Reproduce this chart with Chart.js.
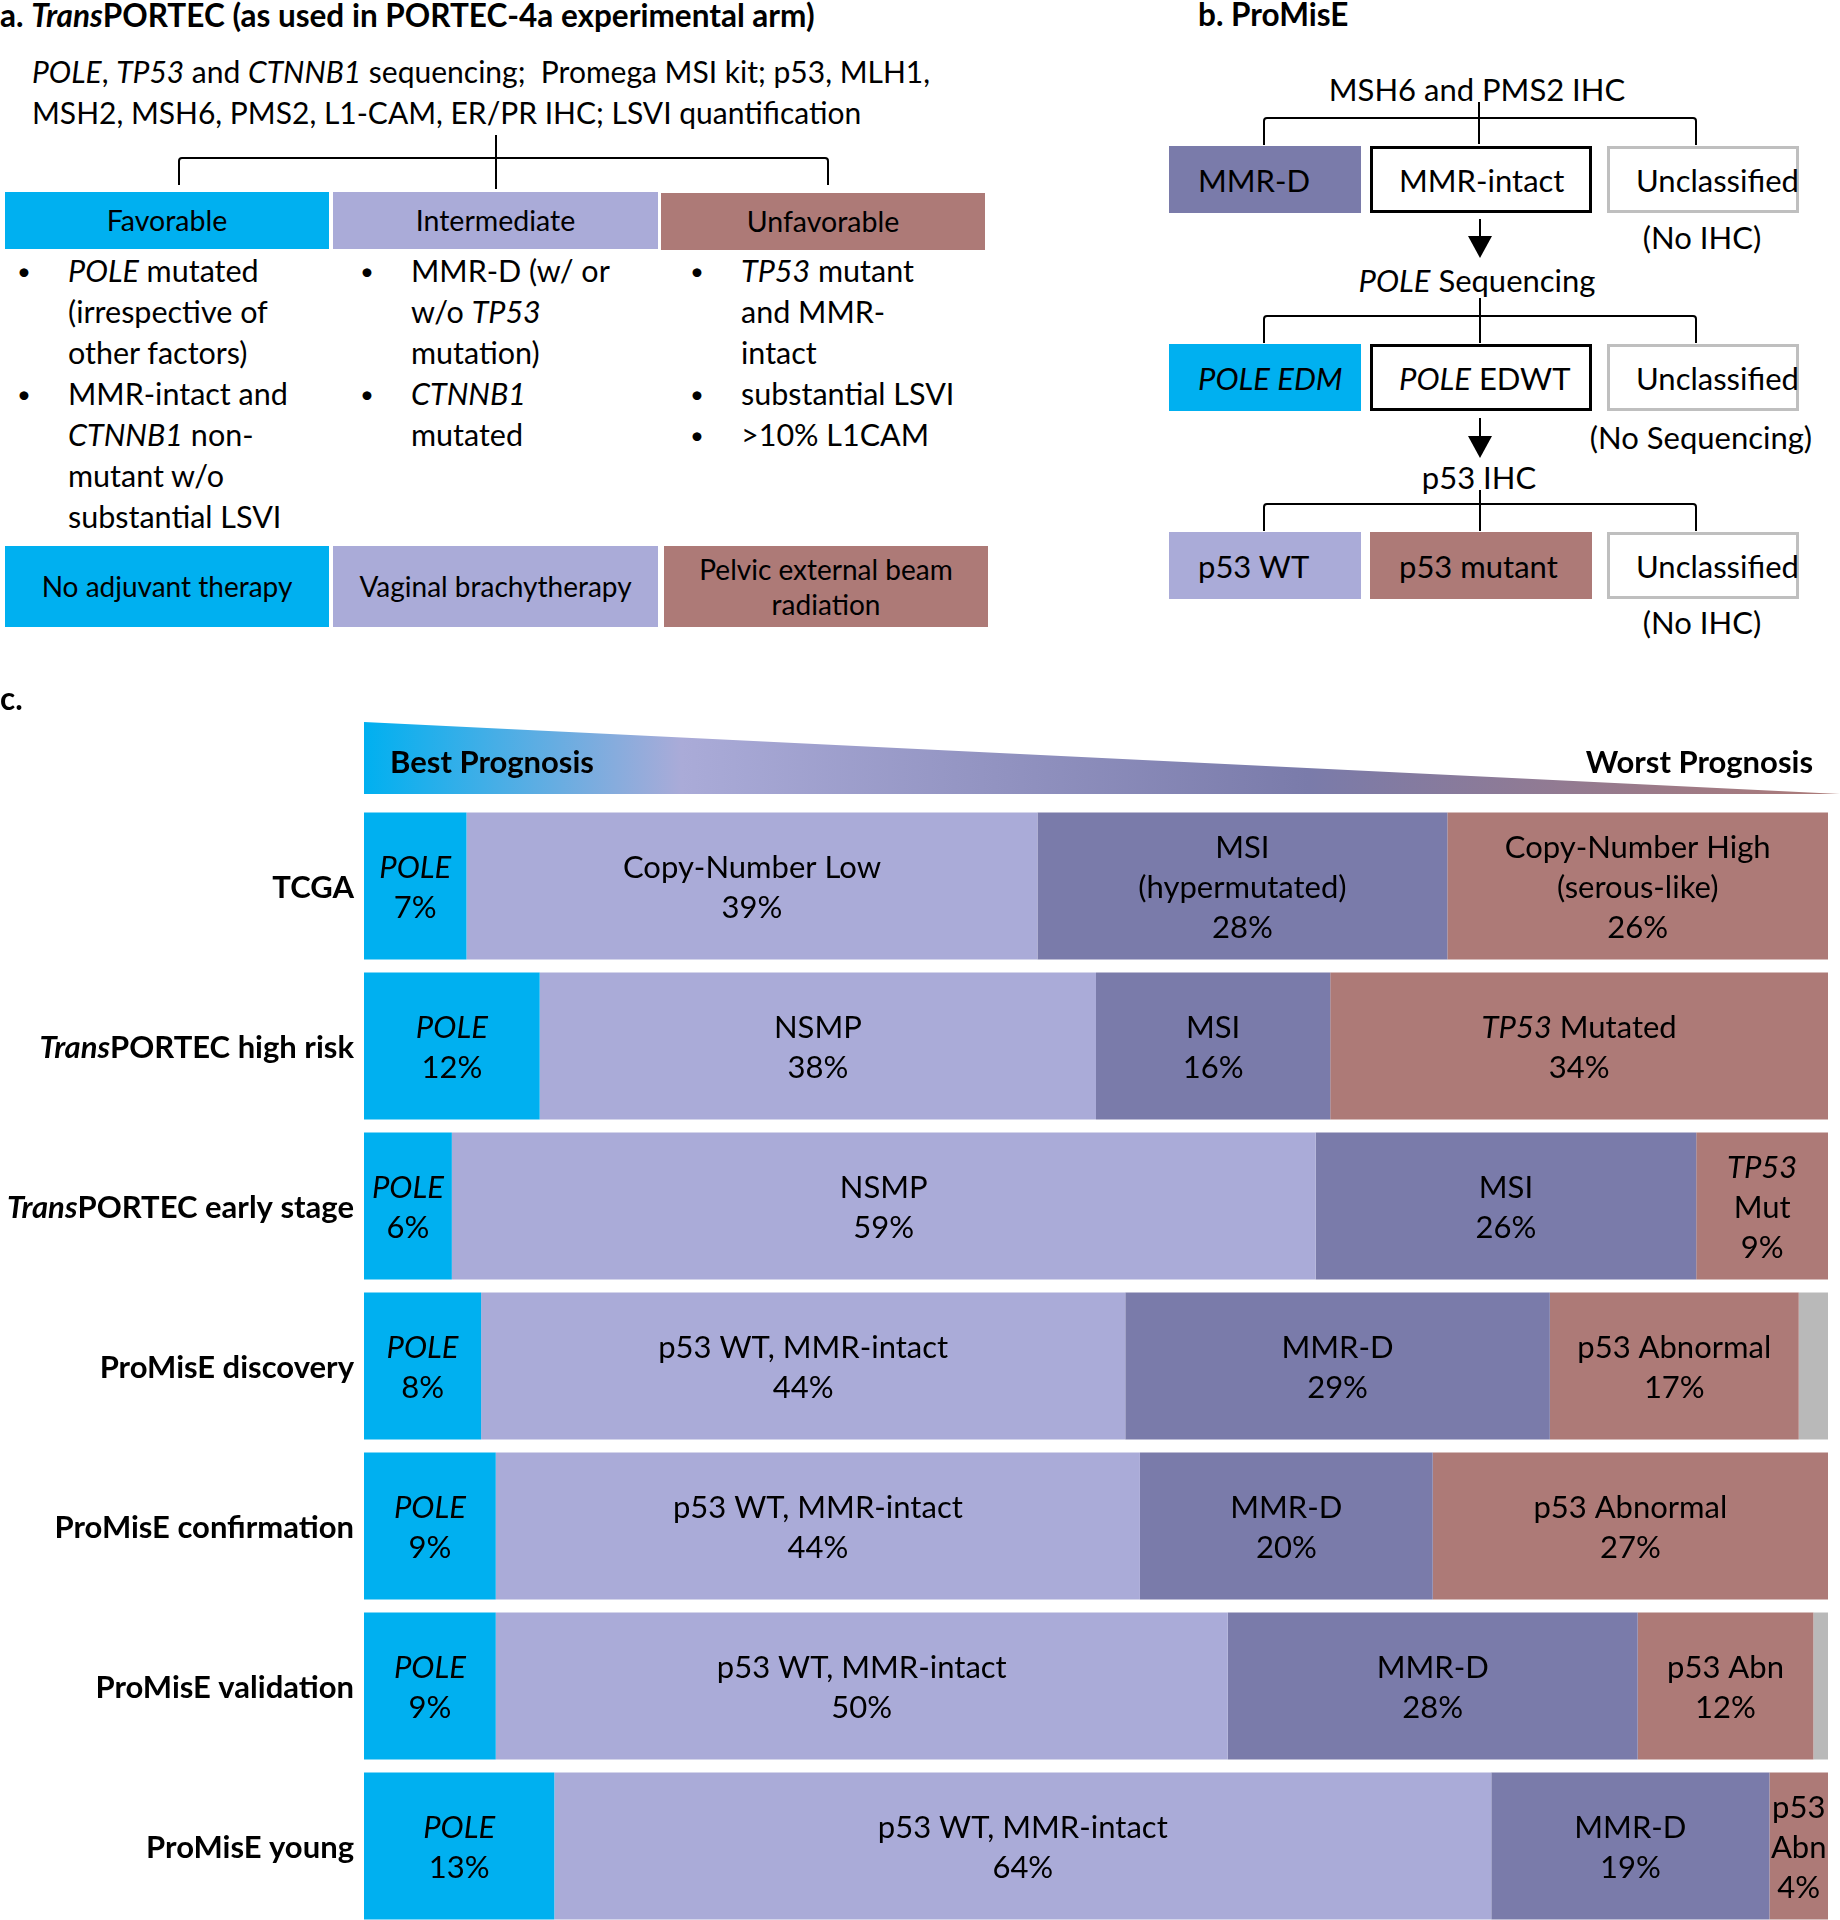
<!DOCTYPE html>
<html>
<head>
<meta charset="utf-8">
<script src="https://cdn.jsdelivr.net/npm/chart.js@4.4.1/dist/chart.umd.min.js"></script>
<style>
body { margin: 0; background: #fff; }
#fig { position: relative; width: 1840px; height: 1920px; overflow: hidden; font-family: Lato, sans-serif; color: #000; }
.t { position: absolute; white-space: nowrap; }
.b { font-weight: bold; }
.box { position: absolute; display: flex; align-items: center; justify-content: center; text-align: center; font-size: 28.5px; line-height: 35px; box-sizing: border-box; }
.pb { position: absolute; display: flex; align-items: center; box-sizing: border-box; font-size: 31px; padding-left: 29px; white-space: nowrap; }
.c { position: absolute; width: 400px; text-align: center; font-size: 31px; line-height: 40px; white-space: nowrap; }
.col { position: absolute; font-size: 30.5px; line-height: 41px; white-space: nowrap; }
.dot { position: absolute; font-size: 24px; line-height: 41px; }
</style>
</head>
<body>
<div id="fig">
  <svg width="1840" height="680" style="position:absolute;left:0;top:0" fill="none" stroke="#000" stroke-width="2">
    <path d="M496,135 V189"/>
    <path d="M179,185 V161 Q179,158 182,158 H825 Q828,158 828,161 V185"/>
    <path d="M1479,102 V144"/>
    <path d="M1264,145 V121 Q1264,118 1267,118 H1693 Q1696,118 1696,121 V145"/>
    <path d="M1480,298 V343"/>
    <path d="M1264,343 V319 Q1264,316 1267,316 H1693 Q1696,316 1696,319 V343"/>
    <path d="M1480,490 V531"/>
    <path d="M1264,531 V507 Q1264,504 1267,504 H1693 Q1696,504 1696,507 V531"/>
    <path d="M1480,219 V238"/>
    <path d="M1468,236 L1492,236 L1480,258 Z" fill="#000" stroke="none"/>
    <path d="M1480,418 V437"/>
    <path d="M1468,436 L1492,436 L1480,458 Z" fill="#000" stroke="none"/>
  </svg>

  <!-- panel a -->
  <div class="t b" style="left:0;top:-3px;font-size:31.5px;line-height:36px">a. <i>Trans</i>PORTEC (as used in PORTEC-4a experimental arm)</div>
  <div class="col" style="left:32px;top:51px;font-size:30px"><i>POLE</i>, <i>TP53</i> and <i>CTNNB1</i> sequencing;&nbsp; Promega MSI kit; p53, MLH1,<br>MSH2, MSH6, PMS2, L1-CAM, ER/PR IHC; LSVI quantification</div>

  <div class="box" style="left:5px;top:192px;width:324px;height:57px;background:#00B0F0">Favorable</div>
  <div class="box" style="left:333px;top:192px;width:325px;height:57px;background:#AAABD8">Intermediate</div>
  <div class="box" style="left:661px;top:193px;width:324px;height:57px;background:#AD7A77">Unfavorable</div>

  <div class="dot" style="left:17px;top:250px">•<br><br><br>•</div>
  <div class="col" style="left:68px;top:250px"><i>POLE</i> mutated<br>(irrespective of<br>other factors)<br>MMR-intact and<br><i>CTNNB1</i> non-<br>mutant w/o<br>substantial LSVI</div>
  <div class="dot" style="left:360px;top:250px">•<br><br><br>•</div>
  <div class="col" style="left:411px;top:250px">MMR-D (w/ or<br>w/o <i>TP53</i><br>mutation)<br><i>CTNNB1</i><br>mutated</div>
  <div class="dot" style="left:690px;top:250px">•<br><br><br>•<br>•</div>
  <div class="col" style="left:741px;top:250px"><i>TP53</i> mutant<br>and MMR-<br>intact<br>substantial LSVI<br>&gt;10% L1CAM</div>

  <div class="box" style="left:5px;top:546px;width:324px;height:81px;background:#00B0F0;font-size:28px">No adjuvant therapy</div>
  <div class="box" style="left:333px;top:546px;width:325px;height:81px;background:#AAABD8;font-size:28px">Vaginal brachytherapy</div>
  <div class="box" style="left:664px;top:546px;width:324px;height:81px;background:#AD7A77;font-size:28px">Pelvic external beam<br>radiation</div>

  <!-- panel b -->
  <div class="t b" style="left:1198px;top:-4px;font-size:31.5px;line-height:36px">b. ProMisE</div>
  <div class="c" style="left:1277px;top:69px">MSH6 and PMS2 IHC</div>
  <div class="pb" style="left:1169px;top:146px;width:192px;height:67px;background:#7A7BAA">MMR-D</div>
  <div class="pb" style="left:1370px;top:146px;width:222px;height:67px;border:3px solid #000;padding-left:26px">MMR-intact</div>
  <div class="pb" style="left:1607px;top:146px;width:192px;height:67px;border:3px solid #BFBFBF;padding-left:26px">Unclassified</div>
  <div class="c" style="left:1502px;top:217px">(No IHC)</div>
  <div class="c" style="left:1277px;top:260px"><i>POLE</i> Sequencing</div>
  <div class="pb" style="left:1169px;top:344px;width:192px;height:67px;background:#00B0F0"><i>POLE EDM</i></div>
  <div class="pb" style="left:1370px;top:344px;width:222px;height:67px;border:3px solid #000;padding-left:26px"><i>POLE</i>&nbsp;EDWT</div>
  <div class="pb" style="left:1607px;top:344px;width:192px;height:67px;border:3px solid #BFBFBF;padding-left:26px">Unclassified</div>
  <div class="c" style="left:1501px;top:417px">(No Sequencing)</div>
  <div class="c" style="left:1279px;top:457px">p53 IHC</div>
  <div class="pb" style="left:1169px;top:532px;width:192px;height:67px;background:#AAABD8">p53 WT</div>
  <div class="pb" style="left:1370px;top:532px;width:222px;height:67px;background:#AD7A77">p53 mutant</div>
  <div class="pb" style="left:1607px;top:532px;width:192px;height:67px;border:3px solid #BFBFBF;padding-left:26px">Unclassified</div>
  <div class="c" style="left:1502px;top:602px">(No IHC)</div>

  <!-- panel c -->
  <canvas id="chartC" width="1840" height="1246" style="position:absolute;left:0;top:680px"></canvas>
  <div class="t b" style="left:0;top:680px;font-size:31.5px;line-height:36px">c.</div>
</div>

<script>
// cohorts (rows), *...* marks italic text
const cohorts = ["TCGA", "*Trans*PORTEC high risk", "*Trans*PORTEC early stage", "ProMisE discovery", "ProMisE confirmation", "ProMisE validation", "ProMisE young"];

// percentages per molecular class
const polePct = [7, 12, 6, 8, 9, 9, 13];
const midPct = [39, 38, 59, 44, 44, 50, 64];
const mmrPct = [28, 16, 26, 29, 20, 28, 19];
const p53Pct = [26, 34, 9, 17, 27, 12, 4];
const unclassPct = [0, 0, 0, 2, 0, 1, 0];

// segment names, | splits lines
const poleNames = ["*POLE*", "*POLE*", "*POLE*", "*POLE*", "*POLE*", "*POLE*", "*POLE*"];
const midNames = ["Copy-Number Low", "NSMP", "NSMP", "p53 WT, MMR-intact", "p53 WT, MMR-intact", "p53 WT, MMR-intact", "p53 WT, MMR-intact"];
const mmrNames = ["MSI|(hypermutated)", "MSI", "MSI", "MMR-D", "MMR-D", "MMR-D", "MMR-D"];
const p53Names = ["Copy-Number High|(serous-like)", "*TP53* Mutated", "*TP53*|Mut", "p53 Abnormal", "p53 Abnormal", "p53 Abn", "p53|Abn"];

const fontFam = "Lato, sans-serif";

function drawRich(ctx, text, x, y, size, bold, align) {
    const parts = text.split("*");
    const fonts = parts.map((p, i) => (i % 2 ? "italic " : "") + (bold ? "bold " : "") + size + "px " + fontFam);
    let total = 0;
    const widths = parts.map((p, i) => {
        ctx.font = fonts[i];
        const w = ctx.measureText(p).width;
        total += w;
        return w;
    });
    let cx = x;
    if (align === "center") cx = x - total / 2;
    if (align === "right") cx = x - total;
    ctx.textBaseline = "middle";
    ctx.textAlign = "left";
    ctx.fillStyle = "#000";
    parts.forEach((p, i) => {
        ctx.font = fonts[i];
        ctx.fillText(p, cx, y);
        cx += widths[i];
    });
}

const prognosisBar = {
    id: "prognosisBar",
    beforeDatasetsDraw(chart) {
        const ctx = chart.ctx;
        const left = chart.chartArea.left;
        const right = chart.width;
        const top = 42, bottom = 114;
        const g = ctx.createLinearGradient(left, 0, right, 0);
        g.addColorStop(0, "#00B0F0");
        g.addColorStop(0.215, "#AAABD8");
        g.addColorStop(0.64, "#7A7BAA");
        g.addColorStop(1, "#AD7A77");
        ctx.save();
        ctx.beginPath();
        ctx.moveTo(left, top);
        ctx.lineTo(right, bottom);
        ctx.lineTo(left, bottom);
        ctx.closePath();
        ctx.fillStyle = g;
        ctx.fill();
        drawRich(ctx, "Best Prognosis", left + 26, 83, 31, true, "left");
        drawRich(ctx, "Worst Prognosis", 1813, 83, 31, true, "right");
        ctx.restore();
    }
};

const segmentLabels = {
    id: "segmentLabels",
    afterDatasetsDraw(chart) {
        const ctx = chart.ctx;
        ctx.save();
        chart.data.datasets.forEach((ds, di) => {
            if (!ds.names) return;
            chart.getDatasetMeta(di).data.forEach((bar, i) => {
                const v = ds.data[i];
                if (!v) return;
                const lines = ds.names[i].split("|").concat([v + "%"]);
                const cx = (bar.x + bar.base) / 2;
                lines.forEach((ln, k) => {
                    drawRich(ctx, ln, cx, bar.y + 2 + (k - (lines.length - 1) / 2) * 40, 31, false, "center");
                });
            });
        });
        const yScale = chart.scales.y;
        cohorts.forEach((c, i) => {
            drawRich(ctx, c, chart.chartArea.left - 10, yScale.getPixelForValue(i) + 2, 31, true, "right");
        });
        ctx.restore();
    }
};

function makeSet(label, data, color, names) {
    return { label, data, backgroundColor: color, borderWidth: 0, names, barPercentage: 0.919, categoryPercentage: 1 };
}

const grafico = new Chart(document.getElementById("chartC"), {
    type: "bar",
    data: {
        labels: cohorts,
        datasets: [
            makeSet("POLE", polePct, "#00B0F0", poleNames),
            makeSet("NSMP", midPct, "#AAABD8", midNames),
            makeSet("MMR-D", mmrPct, "#7A7BAA", mmrNames),
            makeSet("p53 abnormal", p53Pct, "#AD7A77", p53Names),
            makeSet("Unclassified", unclassPct, "#B9B9B9", null)
        ]
    },
    options: {
        indexAxis: "y",
        responsive: false,
        animation: false,
        layout: { padding: { left: 364, right: 12, top: 126, bottom: 0 } },
        scales: {
            x: { stacked: true, min: 0, max: 100, display: false },
            y: { stacked: true, display: false }
        },
        plugins: { legend: { display: false }, tooltip: { enabled: false } }
    },
    plugins: [prognosisBar, segmentLabels]
});
</script>
</body>
</html>
